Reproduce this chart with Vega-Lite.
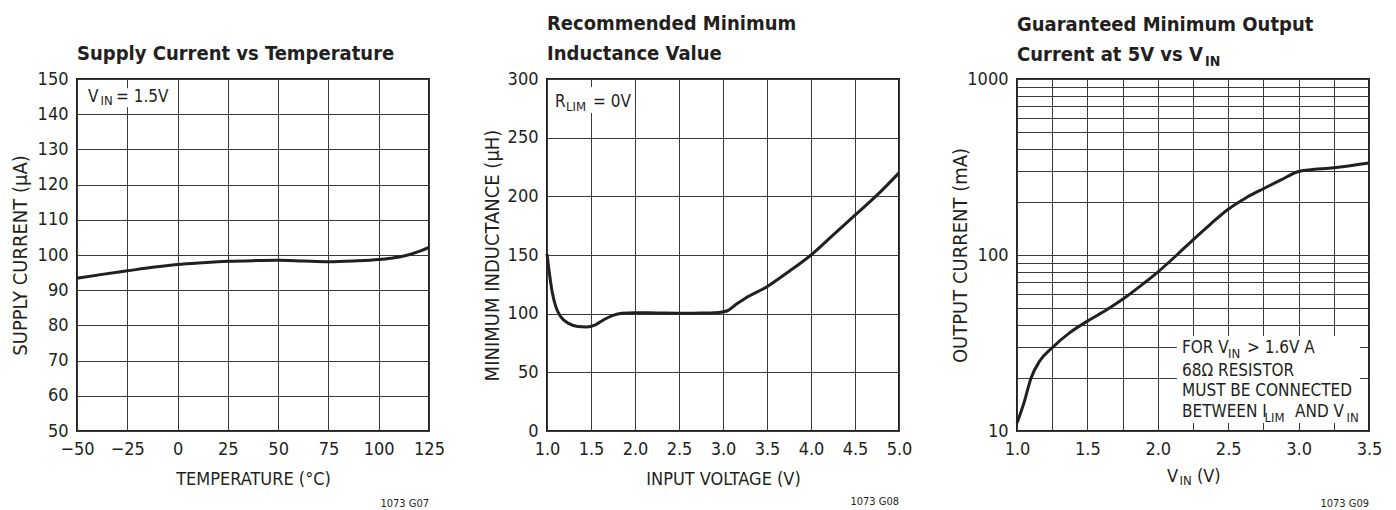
{
  "$schema": "https://vega.github.io/schema/vega-lite/v6.json",
  "background": "white",
  "padding": {"left": 9, "top": 13, "right": 5, "bottom": 0},
  "bounds": "flush",
  "spacing": 118,
  "config": {
    "font": "Liberation Sans Narrow, DejaVu Sans Condensed, sans-serif",
    "view": {"stroke": "#231f20", "strokeWidth": 2},
    "axis": {
      "grid": true, "gridColor": "#3a3a3a", "gridWidth": 1, "gridOpacity": 1,
      "domain": false, "ticks": false, "tickSize": 0,
      "labelFontSize": 18, "labelColor": "#231f20", "labelPadding": 9,
      "labelFlush": false, "labelOverlap": false,
      "titleFontWeight": "normal", "titleColor": "#231f20"
    },
    "axisX": {"titleFontSize": 18},
    "axisY": {"titleFontSize": 20},
    "title": {"fontSize": 20, "fontWeight": "bold", "anchor": "start", "frame": "group", "color": "#231f20", "offset": 6, "lineHeight": 30},
    "text": {"color": "#231f20"}
  },
  "hconcat": [
    {
      "width": 352, "height": 352,
      "title": "Supply Current vs Temperature",
      "encoding": {
        "x": {"field": "x", "type": "quantitative",
              "scale": {"domain": [-50, 125], "nice": false, "zero": false},
              "axis": {"values": [-50, -25, 0, 25, 50, 75, 100, 125], "title": "TEMPERATURE (°C)", "titleY": 53, "titleBaseline": "alphabetic"}},
        "y": {"field": "y", "type": "quantitative",
              "scale": {"domain": [50, 150], "nice": false, "zero": false},
              "axis": {"values": [50, 60, 70, 80, 90, 100, 110, 120, 130, 140, 150], "title": "SUPPLY CURRENT (µA)", "titleX": -57, "titleY": 176, "titleBaseline": "middle"}}
      },
      "layer": [
        {"data": {"values": [{"x": -46, "x2": -5, "y": 147.4, "y2": 142.0}]},
         "mark": {"type": "rect", "fill": "white"},
         "encoding": {"x2": {"field": "x2"}, "y2": {"field": "y2"}}},
        {"data": {"values": [
          {"x": -50, "y": 93.4}, {"x": -37.5, "y": 94.5}, {"x": -25, "y": 95.5}, {"x": -12.5, "y": 96.5},
          {"x": 0, "y": 97.3}, {"x": 12.5, "y": 97.8}, {"x": 25, "y": 98.2}, {"x": 37.5, "y": 98.4},
          {"x": 50, "y": 98.5}, {"x": 62.5, "y": 98.3}, {"x": 75, "y": 98.1}, {"x": 87.5, "y": 98.3},
          {"x": 100, "y": 98.7}, {"x": 106, "y": 99.1}, {"x": 112.5, "y": 99.7}, {"x": 119, "y": 100.8}, {"x": 125, "y": 102.2}]},
         "mark": {"type": "line", "stroke": "#231f20", "strokeWidth": 3, "interpolate": "monotone"}},
        {"data": {"values": [{"x": -44.5, "y": 143.5, "s": "V"}, {"x": -30.6, "y": 143.5, "s": "= 1.5V"}]},
         "mark": {"type": "text", "align": "left", "baseline": "alphabetic", "fontSize": 17},
         "encoding": {"text": {"field": "s"}}},
        {"data": {"values": [{"x": -38.3, "y": 142.6, "s": "IN"}]},
         "mark": {"type": "text", "align": "left", "baseline": "alphabetic", "fontSize": 13},
         "encoding": {"text": {"field": "s"}}},
        {"data": {"values": [{"x": 125, "y": 28.4, "s": "1073 G07"}]},
         "mark": {"type": "text", "align": "right", "baseline": "alphabetic", "fontSize": 11},
         "encoding": {"text": {"field": "s"}}}
      ]
    },
    {
      "width": 352, "height": 352,
      "title": {"text": ["Recommended Minimum", "Inductance Value"]},
      "encoding": {
        "x": {"field": "x", "type": "quantitative",
              "scale": {"domain": [1, 5], "nice": false, "zero": false},
              "axis": {"values": [1, 1.5, 2, 2.5, 3, 3.5, 4, 4.5, 5], "format": ".1f", "title": "INPUT VOLTAGE (V)", "titleY": 53, "titleBaseline": "alphabetic"}},
        "y": {"field": "y", "type": "quantitative",
              "scale": {"domain": [0, 300], "nice": false, "zero": false},
              "axis": {"values": [0, 50, 100, 150, 200, 250, 300], "title": "MINIMUM INDUCTANCE (µH)", "titleX": -55, "titleY": 176, "titleBaseline": "middle"}}
      },
      "layer": [
        {"data": {"values": [{"x": 1.07, "x2": 1.92, "y": 293.2, "y2": 271}]},
         "mark": {"type": "rect", "fill": "white"},
         "encoding": {"x2": {"field": "x2"}, "y2": {"field": "y2"}}},
        {"data": {"values": [
          {"x": 1.0, "y": 151}, {"x": 1.03, "y": 133}, {"x": 1.06, "y": 118}, {"x": 1.1, "y": 106},
          {"x": 1.16, "y": 97}, {"x": 1.25, "y": 91.5}, {"x": 1.35, "y": 89}, {"x": 1.45, "y": 88.6},
          {"x": 1.55, "y": 90.5}, {"x": 1.65, "y": 95}, {"x": 1.75, "y": 98.5}, {"x": 1.85, "y": 100.3},
          {"x": 2.0, "y": 100.8}, {"x": 2.25, "y": 100.6}, {"x": 2.5, "y": 100.4}, {"x": 2.75, "y": 100.5},
          {"x": 2.95, "y": 101}, {"x": 3.05, "y": 102.5}, {"x": 3.15, "y": 108}, {"x": 3.25, "y": 113},
          {"x": 3.5, "y": 123}, {"x": 3.75, "y": 136}, {"x": 4.0, "y": 150}, {"x": 4.25, "y": 167},
          {"x": 4.5, "y": 184}, {"x": 4.75, "y": 201}, {"x": 5.0, "y": 220}]},
         "mark": {"type": "line", "stroke": "#231f20", "strokeWidth": 3, "interpolate": "monotone"}},
        {"data": {"values": [{"x": 1.091, "y": 276.1, "s": "R"}, {"x": 1.523, "y": 276.1, "s": "= 0V"}]},
         "mark": {"type": "text", "align": "left", "baseline": "alphabetic", "fontSize": 17},
         "encoding": {"text": {"field": "s"}}},
        {"data": {"values": [{"x": 1.216, "y": 272.7, "s": "LIM"}]},
         "mark": {"type": "text", "align": "left", "baseline": "alphabetic", "fontSize": 13},
         "encoding": {"text": {"field": "s"}}},
        {"data": {"values": [{"x": 5, "y": -63.2, "s": "1073 G08"}]},
         "mark": {"type": "text", "align": "right", "baseline": "alphabetic", "fontSize": 11},
         "encoding": {"text": {"field": "s"}}}
      ]
    },
    {
      "width": 352, "height": 352,
      "title": {"text": ["Guaranteed Minimum Output", "Current at 5V vs V"], "dy": 16},
      "encoding": {
        "x": {"field": "x", "type": "quantitative",
              "scale": {"domain": [1, 3.5], "nice": false, "zero": false},
              "axis": {"values": [1, 1.25, 1.5, 1.75, 2, 2.25, 2.5, 2.75, 3, 3.25, 3.5], "format": ".1f",
                       "labelExpr": "(datum.value * 2) % 1 == 0 ? datum.label : ''", "title": null}},
        "y": {"field": "y", "type": "quantitative",
              "scale": {"type": "log", "domain": [10, 1000], "nice": false, "zero": false},
              "axis": {"values": [10, 20, 30, 40, 50, 60, 70, 80, 90, 100, 200, 300, 400, 500, 600, 700, 800, 900, 1000],
                       "format": "d", "labelExpr": "datum.value == 10 || datum.value == 100 || datum.value == 1000 ? datum.label : ''",
                       "title": "OUTPUT CURRENT (mA)", "titleX": -57, "titleY": 176, "titleBaseline": "middle"}}
      },
      "layer": [
        {"data": {"values": [{"x": 2.136, "x2": 3.436, "y": 11.1, "y2": 34.7}]},
         "mark": {"type": "rect", "fill": "white"},
         "encoding": {"x2": {"field": "x2"}, "y2": {"field": "y2"}}},
        {"data": {"values": [
          {"x": 1.0, "y": 11.1}, {"x": 1.05, "y": 14.5}, {"x": 1.1, "y": 20}, {"x": 1.16, "y": 24.9},
          {"x": 1.25, "y": 29.7}, {"x": 1.375, "y": 36.2}, {"x": 1.5, "y": 42.1}, {"x": 1.64, "y": 49},
          {"x": 1.75, "y": 56}, {"x": 1.9, "y": 69}, {"x": 2.0, "y": 80}, {"x": 2.135, "y": 100},
          {"x": 2.25, "y": 122}, {"x": 2.375, "y": 150}, {"x": 2.5, "y": 182}, {"x": 2.625, "y": 211},
          {"x": 2.75, "y": 238}, {"x": 2.875, "y": 267}, {"x": 3.0, "y": 298}, {"x": 3.05, "y": 303},
          {"x": 3.25, "y": 313}, {"x": 3.5, "y": 333}]},
         "mark": {"type": "line", "stroke": "#231f20", "strokeWidth": 3, "interpolate": "monotone"}},
        {"data": {"values": [
          {"x": 2.172, "y": 27.7, "s": "FOR V"}, {"x": 2.634, "y": 27.7, "s": "> 1.6V A"},
          {"x": 2.172, "y": 20.5, "s": "68Ω RESISTOR"},
          {"x": 2.172, "y": 15.8, "s": "MUST BE CONNECTED"},
          {"x": 2.172, "y": 12.01, "s": "BETWEEN I"}, {"x": 2.975, "y": 12.01, "s": "AND V"}]},
         "mark": {"type": "text", "align": "left", "baseline": "alphabetic", "fontSize": 17},
         "encoding": {"text": {"field": "s"}}},
        {"data": {"values": [
          {"x": 2.499, "y": 26.0, "s": "IN"}, {"x": 2.758, "y": 11.25, "s": "LIM"}, {"x": 3.34, "y": 11.25, "s": "IN"}, {"x": 2.155, "y": 4.93, "s": "IN"}]},
         "mark": {"type": "text", "align": "left", "baseline": "alphabetic", "fontSize": 13},
         "encoding": {"text": {"field": "s"}}},
        {"data": {"values": [{"x": 2.065, "y": 5.13, "s": "V"}, {"x": 2.278, "y": 5.13, "s": "(V)"}]},
         "mark": {"type": "text", "align": "left", "baseline": "alphabetic", "fontSize": 18},
         "encoding": {"text": {"field": "s"}}},
        {"data": {"values": [{"x": 2.335, "y": 1185, "s": "IN"}]},
         "mark": {"type": "text", "align": "left", "baseline": "alphabetic", "fontSize": 14, "fontWeight": "bold"},
         "encoding": {"text": {"field": "s"}}},
        {"data": {"values": [{"x": 3.5, "y": 3.7, "s": "1073 G09"}]},
         "mark": {"type": "text", "align": "right", "baseline": "alphabetic", "fontSize": 11},
         "encoding": {"text": {"field": "s"}}}
      ]
    }
  ]
}
